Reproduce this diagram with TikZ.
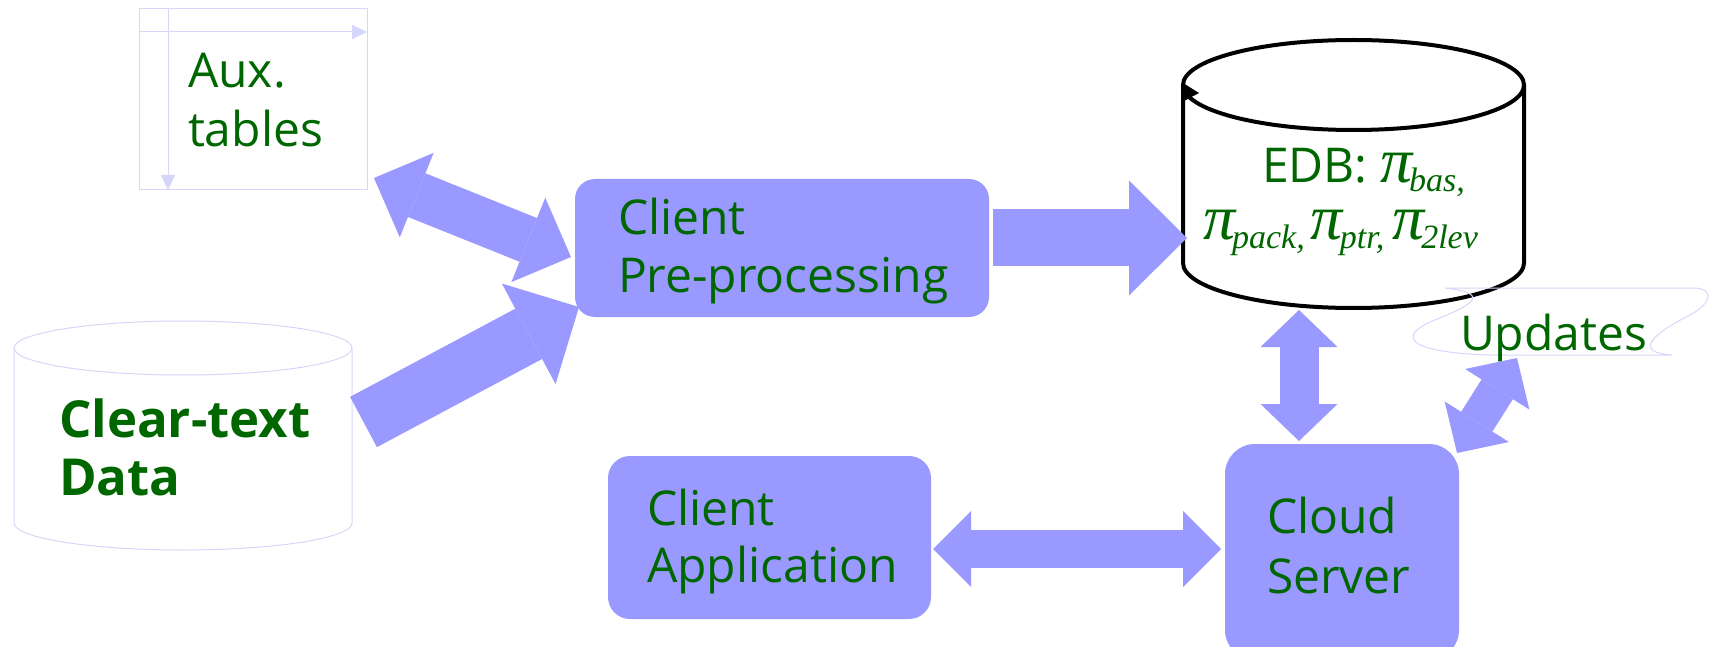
\documentclass[tikz,border=0pt]{standalone}
\usepackage{fontspec}
\setsansfont{Open Sans}
\newfontfamily\piface{Liberation Serif}
\usetikzlibrary{arrows.meta}

\definecolor{boxblue}{HTML}{9999FF}
\definecolor{labelgreen}{HTML}{006600}
\definecolor{faint}{HTML}{D6D6FA}

% italic pi with a lowered italic index
\newcommand{\PiSub}[1]{{\piface\itshape\fontsize{64}{64}\selectfont π}\kern-3pt\raisebox{-9pt}{\piface\itshape\fontsize{34}{34}\selectfont #1}}

\tikzset{
  box/.style={fill=boxblue, inner sep=0pt, outer sep=0pt},
  lbl/.style={anchor=base west, inner sep=0pt, outer sep=0pt, text=labelgreen,
              font=\sffamily\fontsize{48}{58}\selectfont},
  lblbold/.style={lbl, font=\sffamily\bfseries\fontsize{51}{60}\selectfont},
  fatboth/.style n args={3}{draw=boxblue, line width=#1pt,
    {Triangle[width=#2pt,length=#3pt,line width=0pt]}-{Triangle[width=#2pt,length=#3pt,line width=0pt]}},
  fatone/.style n args={3}{draw=boxblue, line width=#1pt,
    -{Triangle[width=#2pt,length=#3pt,line width=0pt]}},
  faintline/.style={draw=faint, line width=1pt},
  cyl/.style={line width=4pt, draw=black},
}

\begin{document}
\begin{tikzpicture}[x=1pt, y=-1pt]
\useasboundingbox (0,0) rectangle (1714,647);
\clip (0,0) rectangle (1714,647);

% --- auxiliary tables (faint table frame)
\draw[faintline] (139,9) rectangle (367,190);
\draw[faintline, -{Triangle[width=14pt,length=15pt]}] (139,32) -- (367,32);
\draw[faintline, -{Triangle[width=14pt,length=15pt]}] (168,9) -- (168,190);
\node[lbl] (auxA) at (188,88) {Aux.};
\node[lbl] (auxB) at (188,147) {tables};

% --- clear-text data store (faint cylinder)
\draw[faintline] (183,348) ellipse [x radius=169, y radius=27];
\draw[faintline] (14,348) -- (14,523) arc[start angle=180, end angle=0, x radius=169, y radius=27] -- (352,348);
\node[lblbold] (clearA) at (59,437) {Clear-text};
\node[lblbold] (clearB) at (59,495) {Data};

% --- processing boxes
\node[box, rounded corners=20pt, minimum width=414pt, minimum height=138pt] (pre) at (782,248) {};
\node[lbl] (preA) at (618,235) {Client};
\node[lbl] (preB) at (618,292) {Pre-processing};

\node[box, rounded corners=22pt, minimum width=323pt, minimum height=163pt] (app) at (769.5,537.5) {};
\node[lbl] (appA) at (647,525) {Client};
\node[lbl] (appB) at (647,582) {Application};

\node[box, rounded corners=30pt, minimum width=234pt, minimum height=216pt] (cloud) at (1342,552) {};
\node[lbl] (cloudA) at (1267,533) {Cloud};
\node[lbl] (cloudB) at (1267,593) {Server};

% --- EDB cylinder
\draw[cyl] (1353.5,85) ellipse [x radius=170.5, y radius=45];
\draw[cyl] (1183,85) -- (1183,263) arc[start angle=180, end angle=0, x radius=170.5, y radius=45] -- (1524,85);
\fill[black] (1183,83) -- (1199,93) -- (1184,101) -- cycle;
\node[lbl] (edbA) at (1262,183) {EDB: \PiSub{bas,}};
\node[lbl] (edbB) at (1203,240) {\PiSub{pack,}\hspace{6pt}\PiSub{ptr,}\hspace{8pt}\PiSub{2lev}};

% --- updates (faint wave)
\draw[faintline] (1445,288) -- (1695,288)
  .. controls (1714,289) and (1712,303) .. (1690,315)
  .. controls (1660,330) and (1628,352) .. (1672,355)
  -- (1490,355)
  .. controls (1420,353) and (1392,340) .. (1430,322)
  .. controls (1470,306) and (1495,294) .. (1445,288);
\node[lbl] (upd) at (1460,350) {Updates};

% --- connectors
\coordinate (auxEnd) at (374,178);
\coordinate (preAux) at (571,257);
\draw[fatboth={47}{91}{46}] (auxEnd) -- (preAux);

\coordinate (clearEnd) at (363.5,422);
\coordinate (preClear) at (579,307);
\draw[fatone={57}{114}{57}] (clearEnd) -- (preClear);

\coordinate (preOut) at (993,238);
\coordinate (edbIn) at (1187,238);
\draw[fatone={57}{115}{58}] (preOut) -- (edbIn);

\coordinate (edbBot) at (1299,310);
\coordinate (cloudTop) at (1299,441);
\draw[fatboth={39}{77}{37}] (edbBot) -- (cloudTop);

\coordinate (appRight) at (933,549);
\coordinate (cloudLeft) at (1221,549);
\draw[fatboth={38}{76}{38}] (appRight) -- (cloudLeft);

\coordinate (cloudCorner) at (1457,453);
\coordinate (updBot) at (1517,358);
\draw[fatboth={37}{76}{37}] (cloudCorner) -- (updBot);
\end{tikzpicture}
\end{document}
